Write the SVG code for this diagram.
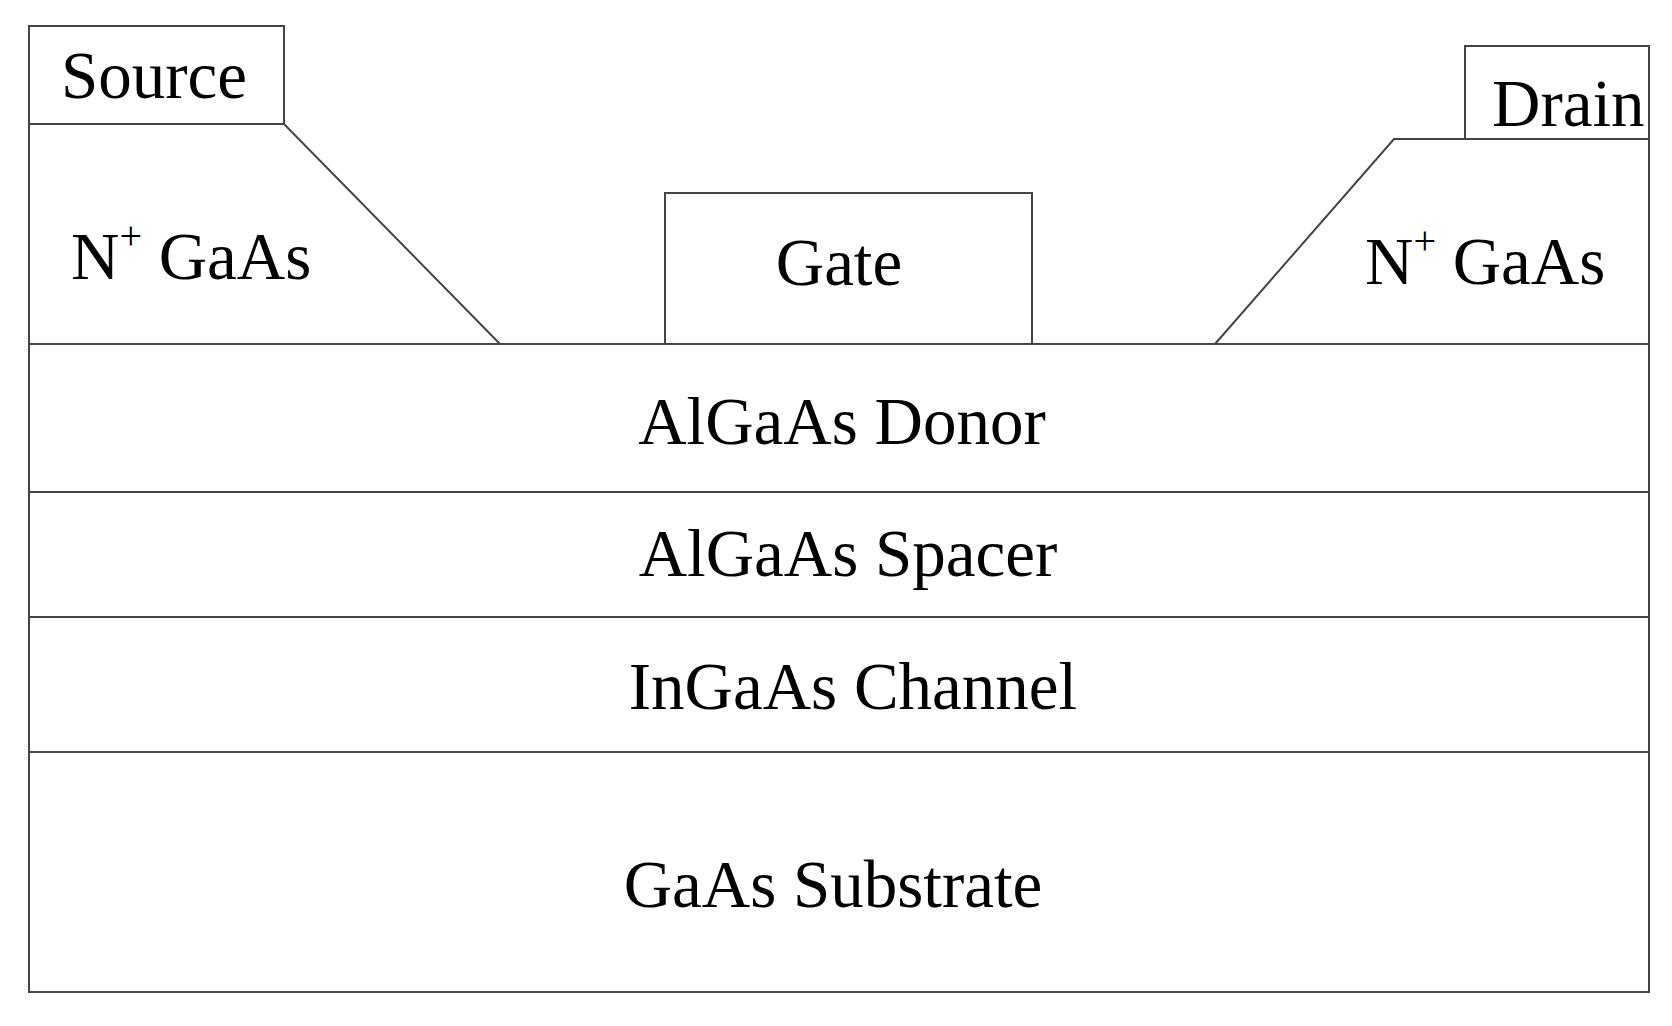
<svg xmlns="http://www.w3.org/2000/svg" width="1672" height="1026" viewBox="0 0 1672 1026">
<style>
.s{fill:none;stroke:#444;stroke-width:2}
text{font-family:"Liberation Serif",serif;font-size:67px;fill:#000}
.c{text-anchor:middle}
</style>
<rect width="1672" height="1026" fill="#fff"/>
<g id="connectors"/>
<g id="substrate"><rect class="s" x="29" y="752" width="1620" height="240"/><text class="c" x="833" y="907">GaAs Substrate</text></g>
<g id="channel"><rect class="s" x="29" y="617" width="1620" height="135"/><text class="c" x="853" y="709">InGaAs Channel</text></g>
<g id="spacer"><rect class="s" x="29" y="492" width="1620" height="125"/><text class="c" x="848" y="576">AlGaAs Spacer</text></g>
<g id="donor"><rect class="s" x="29" y="344" width="1620" height="148"/><text class="c" x="842" y="444">AlGaAs Donor</text></g>
<g id="nplus-left"><polyline class="s" points="29,344 29,124 284,124 500,344"/><text x="71" y="279">N<tspan font-size="40" dy="-30">+</tspan><tspan dy="30"> GaAs</tspan></text></g>
<g id="nplus-right"><polyline class="s" points="1215,344 1394,139 1649,139 1649,344"/><text x="1365" y="284">N<tspan font-size="40" dy="-30">+</tspan><tspan dy="30"> GaAs</tspan></text></g>
<g id="source"><rect class="s" x="29" y="26" width="255" height="98"/><text x="61" y="98">Source</text></g>
<g id="drain"><polyline class="s" points="1465,139 1465,46 1649,46 1649,139"/><text x="1492" y="126">Drain</text></g>
<g id="gate"><polyline class="s" points="665,344 665,193 1032,193 1032,344"/><text class="c" x="839" y="285">Gate</text></g>
</svg>
